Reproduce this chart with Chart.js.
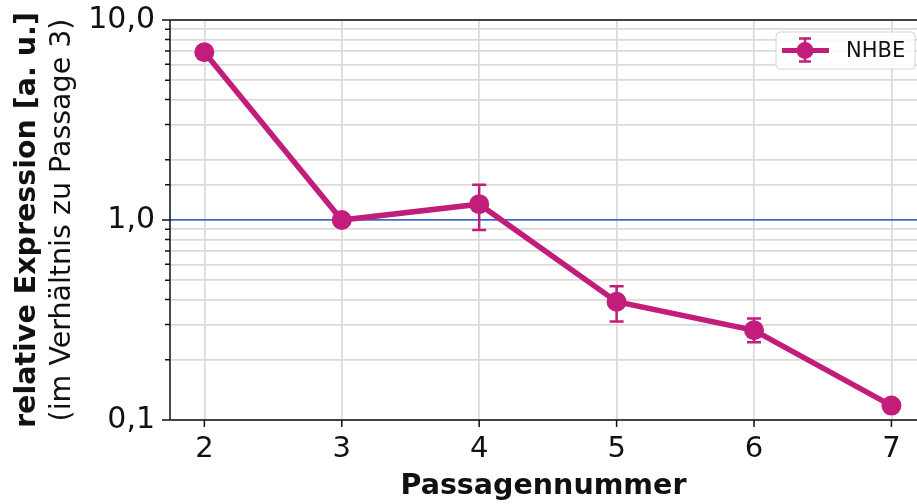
<!DOCTYPE html>
<html>
<head>
<meta charset="utf-8">
<script src="https://cdn.jsdelivr.net/npm/chart.js@4/dist/chart.umd.min.js"></script>
<style>
  html, body { margin: 0; padding: 0; background: #fff; }
  #wrap { width: 917px; height: 504px; }
</style>
</head>
<body>
<div id="wrap"><canvas id="c" width="917" height="504"></canvas></div>
<script>
// Relative expression per passage (log scale), with error bar bounds
const passages   = [2, 3, 4, 5, 6, 7];
const expression = [6.9, 1.0, 1.2, 0.39, 0.281, 0.118];
const errLower   = [null, null, 0.89, 0.311, 0.245, null];
const errUpper   = [null, null, 1.5, 0.466, 0.322, null];
const yTickLabels = { '0.1': '0,1', '1': '1,0', '10': '10,0' };
const seriesName = 'NHBE';
const xTitle = 'Passagennummer';
const yTitleMain = 'relative Expression [a. u.]';
const yTitleSub = '(im Verhältnis zu Passage 3)';

const FONT = "'DejaVu Sans', sans-serif";
const LINE_COLOR = '#c21d7b';
const GRID_COLOR = '#dadada';
const REF_COLOR = '#3a6bc8';
const INK = '#111111';

function decadeKey(v) { return String(+v.toPrecision(6)); }
function isDecade(v) { const l = Math.log10(v); return Math.abs(l - Math.round(l)) < 1e-6; }

function drawErrorBar(ctx, px, top, bottom, cap) {
  ctx.beginPath();
  ctx.moveTo(px, top); ctx.lineTo(px, bottom);
  ctx.moveTo(px - cap, top); ctx.lineTo(px + cap, top);
  ctx.moveTo(px - cap, bottom); ctx.lineTo(px + cap, bottom);
  ctx.stroke();
}

const decor = {
  id: 'decor',
  beforeDatasetsDraw(chart) {
    const { ctx, chartArea: a, scales: { x, y } } = chart;
    ctx.save();
    // axes frame and tick marks
    ctx.strokeStyle = INK;
    ctx.lineWidth = 1.5;
    ctx.beginPath();
    ctx.moveTo(a.left, a.top); ctx.lineTo(a.right, a.top);
    ctx.moveTo(a.left, a.bottom); ctx.lineTo(a.right, a.bottom);
    ctx.moveTo(a.left, a.top); ctx.lineTo(a.left, a.bottom);
    y.ticks.forEach(t => {
      const p = y.getPixelForValue(t.value);
      ctx.moveTo(a.left, p);
      ctx.lineTo(a.left - (isDecade(t.value) ? 8 : 5), p);
    });
    x.ticks.forEach(t => {
      const p = x.getPixelForValue(t.value);
      ctx.moveTo(p, a.bottom);
      ctx.lineTo(p, a.bottom + 7);
    });
    ctx.stroke();
    // error bars
    ctx.strokeStyle = LINE_COLOR;
    ctx.lineWidth = 2.5;
    passages.forEach((p, i) => {
      if (errLower[i] == null) return;
      drawErrorBar(ctx, x.getPixelForValue(p),
        y.getPixelForValue(errUpper[i]), y.getPixelForValue(errLower[i]), 7);
    });
    ctx.restore();
  },
  afterDraw(chart) {
    const { ctx, chartArea: a } = chart;
    ctx.save();
    // two-line y axis title
    const cy = (a.top + a.bottom) / 2;
    ctx.fillStyle = INK;
    ctx.textAlign = 'center';
    ctx.textBaseline = 'middle';
    ctx.translate(28, cy);
    ctx.rotate(-Math.PI / 2);
    ctx.font = 'bold 28.5px ' + FONT;
    ctx.fillText(yTitleMain, 0, 0);
    ctx.font = '28.5px ' + FONT;
    ctx.fillText(yTitleSub, 0, 35);
    ctx.restore();

    // legend
    ctx.save();
    const bx = 776, by = 32, bw = 139, bh = 37;
    ctx.beginPath();
    ctx.roundRect(bx, by, bw, bh, 4);
    ctx.fillStyle = 'rgba(255,255,255,0.85)';
    ctx.fill();
    ctx.strokeStyle = '#d4d4d4';
    ctx.lineWidth = 1;
    ctx.stroke();
    const my = by + bh / 2;
    ctx.strokeStyle = LINE_COLOR;
    ctx.lineWidth = 5;
    ctx.beginPath();
    ctx.moveTo(782, my); ctx.lineTo(829, my);
    ctx.stroke();
    ctx.lineWidth = 2.5;
    drawErrorBar(ctx, 805, my - 12, my + 11, 6);
    ctx.fillStyle = LINE_COLOR;
    ctx.beginPath();
    ctx.arc(805, my, 8.5, 0, Math.PI * 2);
    ctx.fill();
    ctx.fillStyle = INK;
    ctx.font = '21px ' + FONT;
    ctx.textAlign = 'left';
    ctx.textBaseline = 'middle';
    ctx.fillText(seriesName, 846, my + 1);
    ctx.restore();
  }
};

new Chart(document.getElementById('c'), {
  type: 'line',
  data: {
    datasets: [{
      label: seriesName,
      data: passages.map((p, i) => ({ x: p, y: expression[i] })),
      borderColor: LINE_COLOR,
      backgroundColor: LINE_COLOR,
      borderWidth: 5.5,
      pointRadius: 10,
      pointHoverRadius: 10,
      pointBorderWidth: 0,
      tension: 0
    }]
  },
  options: {
    responsive: false,
    devicePixelRatio: 1,
    animation: false,
    events: [],
    layout: { autoPadding: false, padding: { left: 0, top: 20, right: 0, bottom: 0 } },
    plugins: { legend: { display: false }, tooltip: { enabled: false } },
    scales: {
      x: {
        type: 'linear',
        min: 1.75,
        max: 7.186,
        border: { display: false },
        grid: { color: GRID_COLOR, lineWidth: 1.7, drawTicks: false },
        ticks: {
          stepSize: 1,
          includeBounds: false,
          padding: 12,
          color: INK,
          font: { family: FONT, size: 29 },
          maxRotation: 0
        },
        title: {
          display: true,
          text: xTitle,
          color: INK,
          font: { family: FONT, size: 28.5, weight: 'bold' },
          padding: { top: 0, bottom: 0 }
        },
        afterFit(scale) {
          scale.height = 84;
          scale.paddingLeft = 0;
          scale.paddingRight = 0;
        }
      },
      y: {
        type: 'logarithmic',
        min: 0.1,
        max: 10,
        border: { display: false },
        grid: {
          drawTicks: false,
          lineWidth: 1.7,
          color: c => (c.tick && Math.abs(c.tick.value - 1) < 1e-9) ? REF_COLOR : GRID_COLOR
        },
        ticks: {
          autoSkip: false,
          padding: 15,
          color: INK,
          font: { family: FONT, size: 30 },
          callback: v => yTickLabels[decadeKey(v)] || ''
        },
        afterFit(scale) {
          scale.width = 170;
          scale.paddingTop = 0;
          scale.paddingBottom = 0;
        }
      }
    }
  },
  plugins: [decor]
});
</script>
</body>
</html>
